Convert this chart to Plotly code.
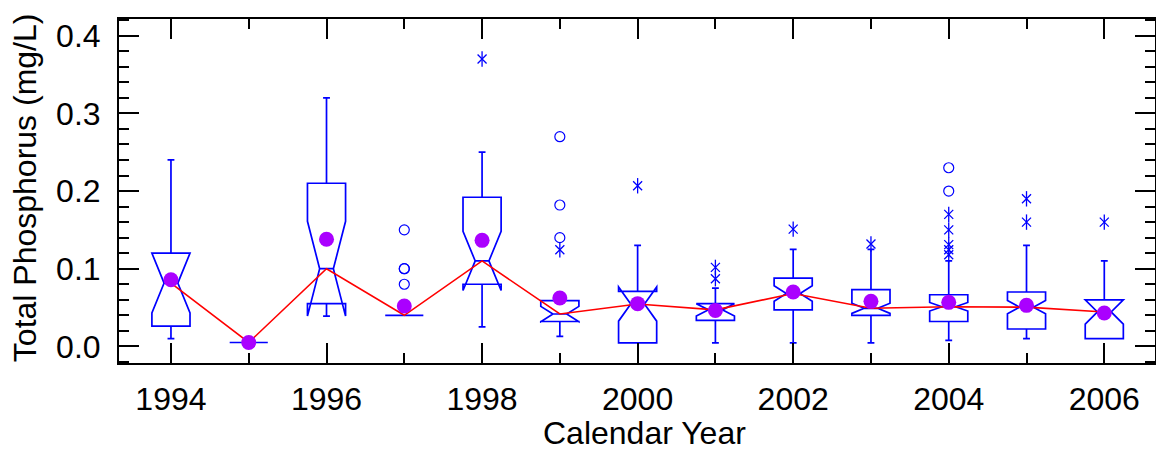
import plotly.graph_objects as go

years = [1994, 1995, 1996, 1997, 1998, 1999, 2000, 2001, 2002, 2003, 2004, 2005, 2006]
q1 = [0.026, 0.005, 0.055, 0.040, 0.080, 0.032, 0.0044, 0.0335, 0.047, 0.040, 0.032, 0.0224, 0.010]
median = [0.0815, 0.005, 0.100, 0.040, 0.110, 0.0417, 0.0545, 0.047, 0.068, 0.049, 0.051, 0.0505, 0.0443]
q3 = [0.120, 0.005, 0.210, 0.040, 0.192, 0.059, 0.0708, 0.055, 0.088, 0.073, 0.0665, 0.070, 0.060]
lowerfence = [0.010, 0.005, 0.040, 0.040, 0.025, 0.013, 0.0044, 0.0044, 0.0044, 0.0044, 0.0077, 0.010, 0.010]
upperfence = [0.240, 0.005, 0.320, 0.040, 0.250, 0.059, 0.130, 0.075, 0.125, 0.125, 0.110, 0.130, 0.110]
notchspan = [0.0385, 0.0, 0.061, 0.0, 0.038, 0.0098, 0.022, 0.008, 0.010, 0.0065, 0.0055, 0.0085, 0.0157]
means = [0.0858, 0.005, 0.138, 0.052, 0.1365, 0.0623, 0.055, 0.0463, 0.070, 0.058, 0.0567, 0.0528, 0.043]

mild_years = [1997, 1997, 1997, 1997, 1999, 1999, 1999, 2004, 2004]
mild_values = [0.150, 0.100, 0.100, 0.080, 0.270, 0.182, 0.140, 0.230, 0.200]

extreme_years = [1998, 1999, 2000, 2001, 2001, 2002, 2003, 2004, 2004, 2004, 2004, 2004, 2005, 2005, 2006]
extreme_values = [0.370, 0.1245, 0.2068, 0.1017, 0.0871, 0.151, 0.1318, 0.170, 0.150, 0.131, 0.1244, 0.118, 0.190, 0.160, 0.160]

x_title = "Calendar Year"
y_title = "Total Phosphorus (mg/L)"

BLUE = "#0000FF"
FONT = "Arial, Liberation Sans, sans-serif"

fig = go.Figure()

fig.add_trace(go.Box(
    x=years, q1=q1, median=median, q3=q3,
    lowerfence=lowerfence, upperfence=upperfence,
    notchspan=notchspan, notched=True, notchwidth=0.32,
    orientation="v", boxpoints=False,
    width=0.49, whiskerwidth=0.18,
    line=dict(color=BLUE, width=1.7),
    fillcolor="rgba(255,255,255,0)",
    showlegend=False, hoverinfo="skip",
))

fig.add_trace(go.Scatter(
    x=years, y=median, mode="lines",
    line=dict(color="#FF0000", width=1.6),
    showlegend=False, hoverinfo="skip",
))

fig.add_trace(go.Scatter(
    x=mild_years, y=mild_values, mode="markers",
    marker=dict(symbol="circle-open", size=10, color=BLUE, line=dict(width=1.2, color=BLUE)),
    showlegend=False, hoverinfo="skip",
))

fig.add_trace(go.Scatter(
    x=extreme_years, y=extreme_values, mode="markers",
    marker=dict(symbol="x-thin-open", size=9, color=BLUE, line=dict(width=1.3, color=BLUE)),
    showlegend=False, hoverinfo="skip",
))
fig.add_trace(go.Scatter(
    x=extreme_years, y=extreme_values, mode="markers",
    marker=dict(symbol="line-ns-open", size=11, color=BLUE, line=dict(width=1.3, color=BLUE)),
    showlegend=False, hoverinfo="skip",
))

fig.add_trace(go.Scatter(
    x=years, y=means, mode="markers",
    marker=dict(symbol="circle", size=15, color="#AA00FF", line=dict(width=0)),
    showlegend=False, hoverinfo="skip",
))

fig.update_layout(
    width=1156, height=453,
    margin=dict(l=119, r=1, t=19, b=90, autoexpand=False),
    paper_bgcolor="white", plot_bgcolor="white",
    font=dict(family=FONT, size=32, color="black"),
    xaxis=dict(
        range=[1993.332, 2006.652],
        tick0=1994, dtick=2, tickformat="d",
        ticks="inside", ticklen=20, tickwidth=2, tickcolor="black",
        minor=dict(dtick=1, tick0=1994, ticks="inside", ticklen=10, tickwidth=2, tickcolor="black", showgrid=False),
        showline=True, linewidth=2, linecolor="black", mirror="allticks",
        showgrid=False, zeroline=False, automargin=False,
        tickfont=dict(size=32), ticklabelstandoff=7,
    ),
    yaxis=dict(
        range=[-0.0214, 0.4215],
        tick0=0, dtick=0.1, tickformat=".1f",
        ticks="inside", ticklen=20, tickwidth=2, tickcolor="black",
        minor=dict(dtick=0.02, tick0=0, ticks="inside", ticklen=10, tickwidth=2, tickcolor="black", showgrid=False),
        showline=True, linewidth=2, linecolor="black", mirror="allticks",
        showgrid=False, zeroline=False, automargin=False,
        tickfont=dict(size=32), ticklabelstandoff=10,
    ),
    annotations=[
        dict(text=x_title, xref="paper", yref="paper", x=0.507, y=-0.2024,
             xanchor="center", yanchor="middle", showarrow=False, font=dict(size=32)),
        dict(text=y_title, xref="paper", yref="paper", x=-0.0905, y=0.509,
             xanchor="center", yanchor="middle", textangle=-90, showarrow=False, font=dict(size=32)),
    ],
)

fig.write_html(
    "out.html",
    config={"displayModeBar": False, "staticPlot": True},
    post_script="document.body.style.margin='0';document.body.style.overflow='hidden';",
)
